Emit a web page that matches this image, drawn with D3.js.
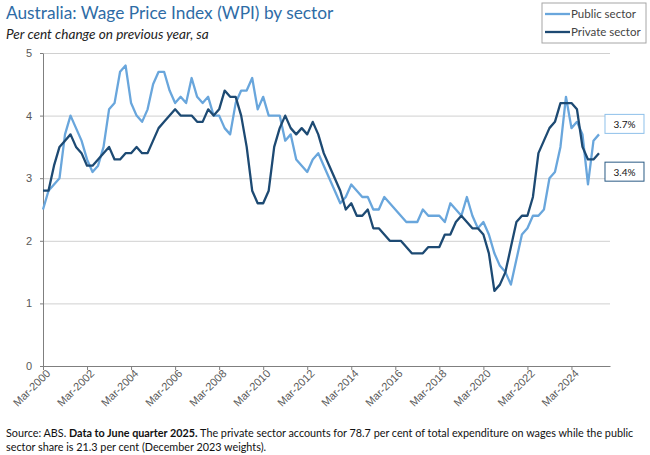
<!DOCTYPE html>
<html>
<head>
<meta charset="utf-8">
<script src="https://cdn.jsdelivr.net/npm/d3@7"></script>
<style>
  body { margin: 0; background: #fff; }
  svg { font-family: Lato, "Open Sans", sans-serif; }
  .axis path, .axis line { stroke: #7f7f7f; }
  .axis text { fill: #595959; font-size: 11px; }
  .grid line { stroke: #d0d0d0; }
  .grid path { display: none; }
</style>
</head>
<body>
<svg id="chart"></svg>
<script>
// quarterly WPI growth, Mar-2000 to Jun-2025 (per cent)
const publicSector = [
  2.5, 2.8, 2.9, 3.0, 3.7, 4.0, 3.8, 3.6, 3.3, 3.1, 3.2, 3.5,
  4.1, 4.2, 4.7, 4.8, 4.2, 4.0, 3.9, 4.1, 4.5, 4.7, 4.7, 4.4,
  4.2, 4.3, 4.2, 4.6, 4.3, 4.2, 4.3, 4.0, 4.0, 3.8, 3.7, 4.2,
  4.4, 4.4, 4.6, 4.1, 4.3, 4.0, 4.0, 4.0, 3.6, 3.7, 3.3, 3.2,
  3.1, 3.3, 3.4, 3.2, 3.0, 2.8, 2.6, 2.7, 2.9, 2.8, 2.7, 2.7,
  2.5, 2.5, 2.7, 2.6, 2.5, 2.4, 2.3, 2.3, 2.3, 2.5, 2.4, 2.4,
  2.4, 2.3, 2.6, 2.5, 2.4, 2.7, 2.4, 2.2, 2.3, 2.1, 1.8, 1.6,
  1.5, 1.3, 1.7, 2.1, 2.2, 2.4, 2.4, 2.5, 3.0, 3.1, 3.5, 4.3,
  3.8, 3.9, 3.7, 2.9, 3.6, 3.7
];
const privateSector = [
  2.8, 2.8, 3.2, 3.5, 3.6, 3.7, 3.5, 3.4, 3.2, 3.2, 3.3, 3.4,
  3.5, 3.3, 3.3, 3.4, 3.4, 3.5, 3.4, 3.4, 3.6, 3.8, 3.9, 4.0,
  4.1, 4.0, 4.0, 4.0, 3.9, 3.9, 4.1, 4.0, 4.1, 4.4, 4.3, 4.3,
  4.0, 3.5, 2.8, 2.6, 2.6, 2.8, 3.5, 3.8, 4.0, 3.8, 3.7, 3.8,
  3.7, 3.9, 3.7, 3.4, 3.2, 3.0, 2.8, 2.5, 2.6, 2.4, 2.4, 2.5,
  2.2, 2.2, 2.1, 2.0, 2.0, 2.0, 1.9, 1.8, 1.8, 1.8, 1.9, 1.9,
  1.9, 2.1, 2.1, 2.3, 2.4, 2.3, 2.2, 2.2, 2.1, 1.8, 1.2, 1.3,
  1.5, 1.9, 2.3, 2.4, 2.4, 2.7, 3.4, 3.6, 3.8, 3.9, 4.2, 4.2,
  4.2, 4.1, 3.5, 3.3, 3.3, 3.4
];
const tickLabels = ['Mar-2000', 'Mar-2002', 'Mar-2004', 'Mar-2006', 'Mar-2008', 'Mar-2010',
  'Mar-2012', 'Mar-2014', 'Mar-2016', 'Mar-2018', 'Mar-2020', 'Mar-2022', 'Mar-2024'];
const yTicks = [0, 1, 2, 3, 4, 5];

const seriesNames = ['Public sector', 'Private sector'];
const colors = ['#69a6dc', '#1d4a73'];

const width = 650, height = 455;
const margin = { top: 53, right: 40, bottom: 89, left: 43 };
const innerW = width - margin.left - margin.right;
const innerH = height - margin.top - margin.bottom;

const svg = d3.select('#chart').attr('width', width).attr('height', height);

// title and subtitle
svg.append('text')
  .attr('x', 6).attr('y', 19)
  .attr('fill', '#2e6ca6')
  .style('font-size', '17.3px')
  .text('Australia: Wage Price Index (WPI) by sector');

svg.append('text')
  .attr('x', 6).attr('y', 39)
  .attr('fill', '#222')
  .style('font-size', '13.6px')
  .style('font-style', 'italic')
  .text('Per cent change on previous year, sa');

const chart = svg.append('g')
  .attr('transform', `translate(${margin.left},${margin.top})`);

// points sit on ticks, axis runs a little past the last quarter
const xScale = d3.scaleLinear().domain([0, 103]).range([0, innerW]);
const yScale = d3.scaleLinear().domain([0, 5]).range([innerH, 0]);

// gridlines
chart.append('g')
  .attr('class', 'grid')
  .call(d3.axisLeft(yScale).tickValues(yTicks.slice(1)).tickSize(-innerW).tickFormat(''));

// axes
const yAxisG = chart.append('g')
  .attr('class', 'axis y-axis')
  .call(d3.axisLeft(yScale).tickValues(yTicks).tickFormat(d3.format('d'))
    .tickSize(3).tickSizeOuter(0).tickPadding(8));

const xAxisG = chart.append('g')
  .attr('class', 'axis x-axis')
  .attr('transform', `translate(0,${innerH})`)
  .call(d3.axisBottom(xScale)
    .tickValues(tickLabels.map((d, i) => i * 8))
    .tickFormat((d, i) => tickLabels[i])
    .tickSize(4).tickSizeOuter(0));

xAxisG.selectAll('text')
  .attr('text-anchor', 'end')
  .attr('dx', '0.15em')
  .attr('dy', '0.55em')
  .attr('transform', 'rotate(-45)')
  .attr('y', 5).attr('x', -2);

// lines
const line = d3.line()
  .x((d, i) => xScale(i))
  .y(d => yScale(d));

chart.selectAll('.chart-line')
  .data([publicSector, privateSector])
  .join('path')
  .attr('class', 'chart-line')
  .attr('fill', 'none')
  .attr('stroke', (d, i) => colors[i])
  .attr('stroke-width', 2.3)
  .attr('stroke-linejoin', 'round')
  .attr('d', line);

// end-of-series value boxes
const last = publicSector.length - 1;
const endLabels = [
  { v: publicSector[last], color: '#8ec0ea', off: -10 },
  { v: privateSector[last], color: '#2a5a84', off: 19 }
];
const endG = chart.selectAll('.end-label')
  .data(endLabels)
  .join('g')
  .attr('class', 'end-label')
  .attr('transform', d => `translate(${xScale(last) + 6},${yScale(d.v) + d.off})`);

endG.append('rect')
  .attr('x', 0).attr('y', -10)
  .attr('width', 39).attr('height', 19)
  .attr('fill', '#fff')
  .attr('stroke', d => d.color)
  .attr('stroke-width', 1);

endG.append('text')
  .attr('x', 19.5).attr('y', 0)
  .attr('dy', '0.35em')
  .attr('text-anchor', 'middle')
  .attr('fill', '#111')
  .style('font-size', '10px')
  .text(d => d.v.toFixed(1) + '%');

// legend
const legend = svg.append('g').attr('transform', 'translate(542,3)');
legend.append('rect')
  .attr('width', 104).attr('height', 40)
  .attr('fill', '#fff')
  .attr('stroke', '#a6a6a6');
seriesNames.forEach((name, i) => {
  const y = 11 + i * 18;
  legend.append('line')
    .attr('x1', 3).attr('x2', 28)
    .attr('y1', y).attr('y2', y)
    .attr('stroke', colors[i]).attr('stroke-width', 2.3);
  legend.append('text')
    .attr('x', 29).attr('y', y)
    .attr('dy', '0.35em')
    .attr('fill', '#444')
    .style('font-size', '11.5px')
    .text(name);
});

// footer
const foot = svg.append('text')
  .attr('x', 6).attr('y', 437)
  .attr('fill', '#111')
  .style('font-size', '10.8px');
foot.append('tspan').text('Source: ABS.  ');
foot.append('tspan').style('font-weight', 'bold').text('Data to June quarter 2025.');
foot.append('tspan').text(' The private sector accounts for 78.7 per cent of total expenditure on wages while the public');

svg.append('text')
  .attr('x', 6).attr('y', 451)
  .attr('fill', '#111')
  .style('font-size', '10.8px')
  .text('sector share is 21.3 per cent (December 2023 weights).');
</script>
</body>
</html>
